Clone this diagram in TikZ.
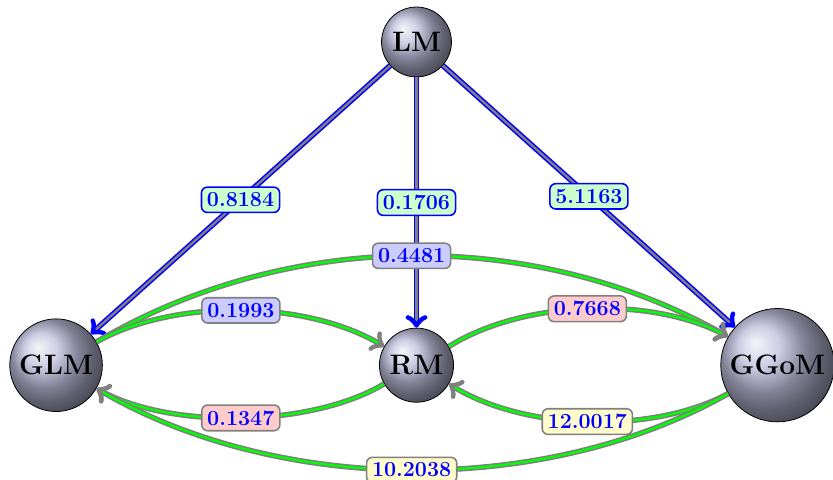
\documentclass[tikz,border=0pt]{standalone}
\usepackage{amsmath}
\usepackage{tikz}
\begin{document}
\begin{tikzpicture}
\tikzstyle{lien}=[->,>=to,thick,double distance=1.2pt]
\tikzstyle{lienbleu}=[lien,draw=blue,double=gray]
\tikzstyle{lienvert}=[lien,draw=gray,double=green]
\tikzset{modele/.style={circle,draw,shading=ball,ball color=gray!70!blue!40,font=\Large\bfseries},
poids/.style={draw=gray,thick,rounded corners=3pt,fill=#1!20,text=blue,font=\fontsize{11}{13}\selectfont\bfseries,inner sep=2.8pt},
poids/.default={green}}
\useasboundingbox (0,0) rectangle (15,8.626);
\node[modele] (LM) at (7.5,7.87) {LM};
\node[modele] (GLM) at (1.01,2.05) {GLM};\node[modele] (RM) at (7.5,2.05) {RM};
\node[modele] (GGoM) at (14,2.05) {GGoM};

\draw[lienbleu] (LM) -- node[poids,draw=blue] {0.8184} (GLM);
\draw[lienbleu] (LM) -- node[poids,draw=blue] {0.1706} (RM);
\draw[lienbleu] (LM) -- node[poids,draw=blue] {5.1163} (GGoM);

\draw[lienvert] (GLM) to[bend left=30,looseness=0.9] node[poids=blue] {0.4481} (GGoM);
\draw[lienvert] (GLM) to[bend left=30,looseness=0.8] node[poids=blue] {0.1993} (RM);
\draw[lienvert] (RM) to[bend left=30,looseness=0.8] node[poids=red] {0.7668} (GGoM);
\draw[lienvert] (RM) to[bend left=30,looseness=0.75] node[poids=red] {0.1347} (GLM);
\draw[lienvert] (GGoM) to[bend left=30,looseness=0.8] node[poids=yellow] {12.0017} (RM);
\draw[lienvert] (GGoM) to[bend left=30,looseness=0.85] node[poids=yellow] {10.2038} (GLM);

\end{tikzpicture}
\end{document}
